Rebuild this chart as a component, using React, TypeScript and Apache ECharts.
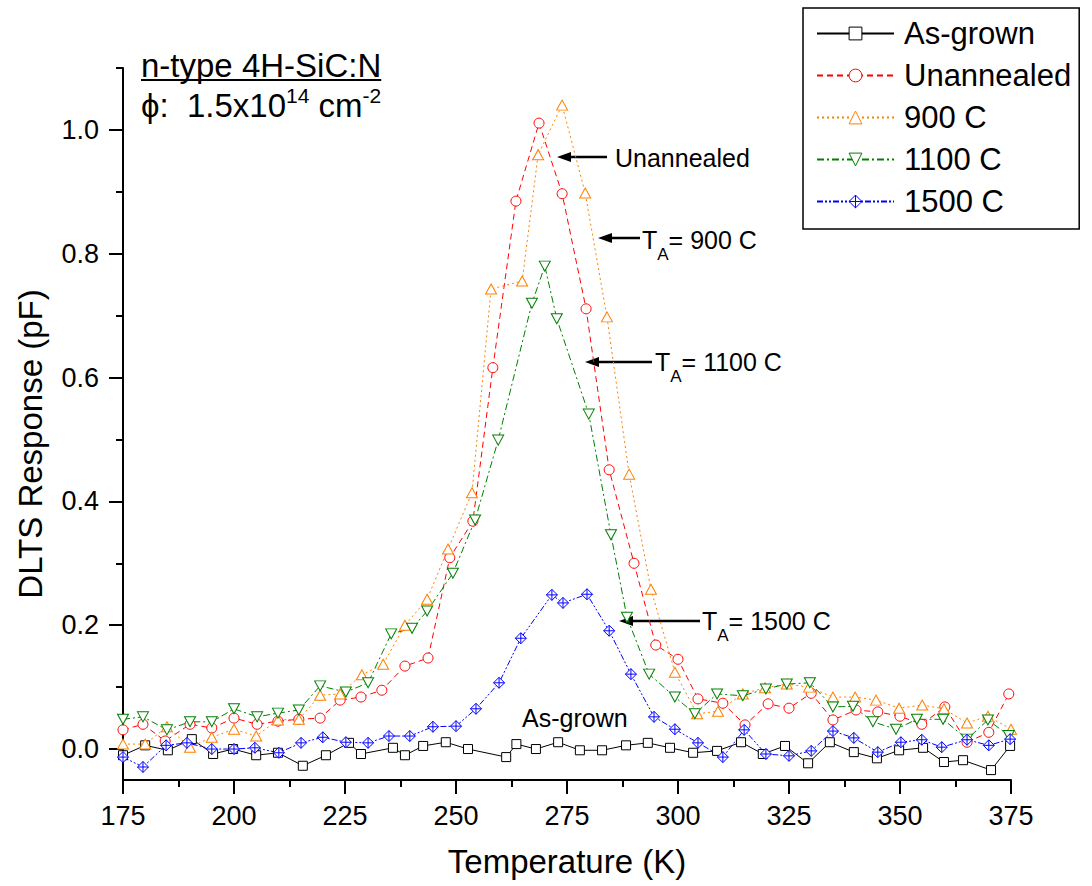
import { useEffect, useRef } from 'react';
import * as echarts from 'echarts';

const FONT = '"Liberation Sans", Arial, Helvetica, sans-serif';

const seriesNames = ['As-grown', 'Unannealed', '900 C', '1100 C', '1500 C'];
const seriesColors = ['#000000', '#ff0000', '#ff8000', '#008000', '#0000ff'];

// temperatures (K) and DLTS response (pF)
const asGrownT = [175, 180, 185.1, 190.5, 195.3, 199.8, 205, 209.9, 215.5, 220.7, 225.9, 228.6, 235.8, 238.5, 242.6, 247.7, 252.7, 261.3, 263.6, 268, 273, 277.9, 282.9, 288.3, 293.2, 298.2, 303.4, 308.8, 314.2, 319.1, 324.1, 329.3, 334.2, 339.6, 344.8, 349.8, 355.2, 359.9, 364.2, 370.5, 374.8];
const asGrownV = [-0.01, 0.006, -0.002, 0.016, -0.008, 0.0, -0.01, -0.006, -0.027, -0.01, 0.01, -0.008, 0.002, -0.01, 0.005, 0.011, 0.0, -0.013, 0.008, 0.0, 0.011, -0.002, -0.002, 0.006, 0.01, 0.002, -0.006, -0.003, 0.011, -0.008, 0.005, -0.023, 0.011, -0.005, -0.015, -0.002, 0.002, -0.021, -0.018, -0.034, 0.005];

const unannealedT = [175, 179.5, 184.5, 190.1, 195, 200, 205.2, 209.9, 214.6, 219.4, 223.9, 228.6, 233.3, 238.5, 243.7, 248.6, 253.8, 258.3, 263.5, 268.7, 273.9, 279.3, 284.5, 290.1, 295, 300, 304.5, 310.1, 315.1, 320.3, 325, 330, 334.9, 340.1, 345, 350, 354.9, 360.1, 365.1, 370, 374.5];
const unannealedV = [0.031, 0.04, 0.013, 0.04, 0.034, 0.05, 0.04, 0.045, 0.048, 0.05, 0.079, 0.084, 0.095, 0.134, 0.147, 0.309, 0.368, 0.616, 0.885, 1.011, 0.897, 0.711, 0.451, 0.3, 0.168, 0.145, 0.081, 0.074, 0.039, 0.073, 0.066, 0.09, 0.047, 0.063, 0.06, 0.053, 0.04, 0.068, 0.011, 0.027, 0.089];

const t900T = [175, 180, 184.9, 190.1, 195, 200, 205, 209.9, 214.6, 219.4, 223.9, 228.8, 233.6, 238.5, 243.5, 248.2, 253.6, 257.9, 264.9, 268.5, 273.9, 279.1, 284, 289, 293.9, 299.3, 304.3, 309, 314.6, 319.6, 324.5, 329.5, 334.9, 339.9, 344.6, 349.8, 355, 359.9, 365.1, 369.8, 375];
const t900V = [0.008, 0.008, 0.036, 0.003, 0.019, 0.032, 0.021, 0.047, 0.048, 0.087, 0.089, 0.12, 0.137, 0.2, 0.242, 0.323, 0.414, 0.743, 0.756, 0.96, 1.04, 0.898, 0.698, 0.444, 0.258, 0.124, 0.057, 0.061, 0.089, 0.099, 0.105, 0.1, 0.084, 0.084, 0.079, 0.066, 0.071, 0.065, 0.042, 0.053, 0.032];

const t1100T = [175, 179.5, 184.9, 190.1, 195, 200, 205.2, 209.9, 214.6, 219.4, 225.2, 230.2, 235.4, 240.1, 243.5, 249.3, 254.3, 259.5, 267.1, 270, 272.7, 279.9, 284.9, 288.5, 293.5, 299.3, 303.8, 308.8, 314.6, 319.8, 324.5, 329.7, 334.9, 339.4, 343.9, 349.1, 353.8, 359.7, 365.1, 369.8, 374.5];
const t1100V = [0.048, 0.052, 0.031, 0.044, 0.044, 0.065, 0.052, 0.058, 0.063, 0.102, 0.092, 0.107, 0.186, 0.195, 0.223, 0.284, 0.37, 0.499, 0.72, 0.78, 0.695, 0.541, 0.346, 0.213, 0.121, 0.084, 0.057, 0.089, 0.086, 0.097, 0.105, 0.107, 0.068, 0.069, 0.044, 0.032, 0.048, 0.048, 0.016, 0.047, 0.022];

const t1500T = [175, 179.5, 184.7, 189.4, 195, 200, 204.7, 210.1, 215.1, 220, 225.2, 230.2, 234.9, 239.6, 244.8, 250, 254.5, 259.7, 264.6, 271.6, 274.1, 279.5, 284.5, 289.4, 294.6, 299.3, 304.5, 310.1, 314.9, 319.8, 325, 330, 334.9, 339.6, 345, 350.2, 354.9, 359.4, 365.1, 370, 374.8];
const t1500V = [-0.013, -0.029, 0.006, 0.01, 0.0, 0.0, 0.002, -0.006, 0.01, 0.019, 0.011, 0.01, 0.021, 0.021, 0.036, 0.037, 0.065, 0.107, 0.179, 0.249, 0.236, 0.25, 0.191, 0.121, 0.052, 0.032, 0.01, -0.013, 0.031, -0.008, -0.011, -0.003, 0.029, 0.018, -0.005, 0.011, 0.015, 0.003, 0.015, 0.006, 0.016];

const yMajorTicks = [0, 0.2, 0.4, 0.6, 0.8, 1.0];
const yMinorTicks = [0.1, 0.3, 0.5, 0.7, 0.9, 1.1];

const zip = (t: number[], v: number[]) => t.map((x, i) => [x, v[i]]);

const DIAMOND_CROSS = 'path://M10,0 L20,10 L10,20 L0,10 Z M10,0 L10,20 M0,10 L20,10';

function arrow(tipX: number, tailX: number, y: number) {
  return {
    type: 'group',
    children: [
      { type: 'line', shape: { x1: tipX + 8, y1: y, x2: tailX, y2: y }, style: { stroke: '#000', lineWidth: 2.5 } },
      { type: 'polygon', shape: { points: [[tipX, y], [tipX + 14, y - 5], [tipX + 14, y + 5]] }, style: { fill: '#000' } },
    ],
  };
}

function tempLabel(x: number, y: number, rest: string) {
  return {
    type: 'text',
    x,
    y,
    style: {
      text: `{t|T}{s|A}{t|${rest}}`,
      verticalAlign: 'middle',
      rich: {
        t: { fontSize: 25, fontFamily: FONT, fill: '#000' },
        s: { fontSize: 17, fontFamily: FONT, fill: '#000', padding: [28, 0, 0, 0] },
      },
    },
  };
}

export default function App() {
  const chartRef = useRef<HTMLDivElement>(null);

  useEffect(() => {
    if (!chartRef.current) return;
    const chart = echarts.init(chartRef.current, null, { renderer: 'svg' });

    const ctx = document.createElement('canvas').getContext('2d');
    let titleW = 249;
    if (ctx) {
      ctx.font = `33px ${FONT}`;
      titleW = ctx.measureText('n-type 4H-SiC:N').width;
    }

    const line = (i: number, data: number[][], dash: number[] | 'solid', symbol: string, size: number | number[], rotate = 0) => ({
      name: seriesNames[i],
      type: 'line',
      data,
      symbol,
      symbolSize: size,
      symbolRotate: rotate,
      showAllSymbol: true,
      lineStyle: { color: seriesColors[i], width: 1, type: dash },
      itemStyle: { color: '#fff', borderColor: seriesColors[i], borderWidth: 1 },
    });

    chart.setOption({
      animation: false,
      backgroundColor: '#fff',
      textStyle: { fontFamily: FONT, color: '#000' },
      grid: { left: 123, right: 81, top: 68, bottom: 106 },
      legend: {
        data: seriesNames.map((name, i) => ({
          name,
          itemStyle: { color: '#fff', borderColor: seriesColors[i], borderWidth: 1 },
        })),
        orient: 'vertical',
        left: 803,
        top: 8,
        padding: [10, 8, 12, 13],
        itemGap: 11,
        itemWidth: 77,
        itemHeight: 16,
        borderColor: '#000',
        borderWidth: 1.5,
        backgroundColor: '#fff',
        textStyle: { fontSize: 31, color: '#000', fontFamily: FONT, padding: [0, 0, 0, 5] },
      },
      xAxis: {
        type: 'value',
        min: 175,
        max: 375,
        interval: 25,
        name: 'Temperature (K)',
        nameLocation: 'middle',
        nameGap: 65,
        nameTextStyle: { fontSize: 33, color: '#000', fontFamily: FONT },
        axisLine: { onZero: false, lineStyle: { color: '#000', width: 2 } },
        axisTick: { length: 14, lineStyle: { color: '#000', width: 2 } },
        minorTick: { show: true, splitNumber: 2, length: 7, lineStyle: { color: '#000', width: 2 } },
        axisLabel: { fontSize: 27, color: '#000', margin: 22, fontFamily: FONT },
        splitLine: { show: false },
      },
      yAxis: [
        {
          type: 'value',
          min: -0.05,
          max: 1.1,
          axisLine: { show: true, onZero: false, lineStyle: { color: '#000', width: 2 } },
          axisTick: { show: true, customValues: yMajorTicks, length: 14, lineStyle: { color: '#000', width: 2 } },
          axisLabel: {
            customValues: yMajorTicks,
            formatter: (v: number) => v.toFixed(1),
            fontSize: 27,
            color: '#000',
            margin: 24,
            fontFamily: FONT,
          },
          splitLine: { show: false },
        },
        {
          type: 'value',
          position: 'left',
          min: -0.05,
          max: 1.1,
          axisLine: { show: false },
          axisTick: { show: true, customValues: yMinorTicks, length: 7, lineStyle: { color: '#000', width: 2 } },
          axisLabel: { show: false },
          splitLine: { show: false },
        },
      ],
      series: [
        line(0, zip(asGrownT, asGrownV), 'solid', 'rect', 9),
        line(1, zip(unannealedT, unannealedV), [6, 4], 'circle', 10),
        line(2, zip(t900T, t900V), [2, 3], 'triangle', [11, 10]),
        line(3, zip(t1100T, t1100V), [7, 3, 2, 3], 'triangle', [11, 10], 180),
        line(4, zip(t1500T, t1500V), [6, 2, 2, 2, 2, 2], DIAMOND_CROSS, 11),
      ],
      graphic: [
        {
          type: 'text',
          x: 30,
          y: 444,
          rotation: Math.PI / 2,
          style: { text: 'DLTS Response (pF)', fontSize: 33, fontFamily: FONT, fill: '#000', align: 'center', verticalAlign: 'middle' },
        },
        {
          type: 'text',
          x: 141,
          y: 65,
          style: { text: 'n-type 4H-SiC:N', fontSize: 33, fontFamily: FONT, fill: '#000', verticalAlign: 'middle' },
        },
        { type: 'line', shape: { x1: 141, y1: 80, x2: 141 + titleW, y2: 80 }, style: { stroke: '#000', lineWidth: 2 } },
        {
          type: 'text',
          x: 141,
          y: 105,
          style: {
            text: '{n|ϕ:  1.5x10}{p|14}{n| cm}{p|-2}',
            verticalAlign: 'middle',
            rich: {
              n: { fontSize: 33, fontFamily: FONT, fill: '#000' },
              p: { fontSize: 21, fontFamily: FONT, fill: '#000', padding: [0, 0, 20, 0] },
            },
          },
        },
        arrow(557, 607, 157),
        { type: 'text', x: 615, y: 158, style: { text: 'Unannealed', fontSize: 25, fontFamily: FONT, fill: '#000', verticalAlign: 'middle' } },
        arrow(598, 640, 238),
        tempLabel(642, 240, '= 900 C'),
        arrow(585, 652, 362),
        tempLabel(655, 362, '= 1100 C'),
        arrow(619, 700, 621),
        tempLabel(702, 621, '= 1500 C'),
        { type: 'text', x: 522, y: 718, style: { text: 'As-grown', fontSize: 25, fontFamily: FONT, fill: '#000', verticalAlign: 'middle' } },
      ],
    });

    return () => chart.dispose();
  }, []);

  return (
    <div
      ref={chartRef}
      style={{ position: 'fixed', left: 0, top: 0, width: 1092, height: 886, background: '#fff' }}
    />
  );
}
